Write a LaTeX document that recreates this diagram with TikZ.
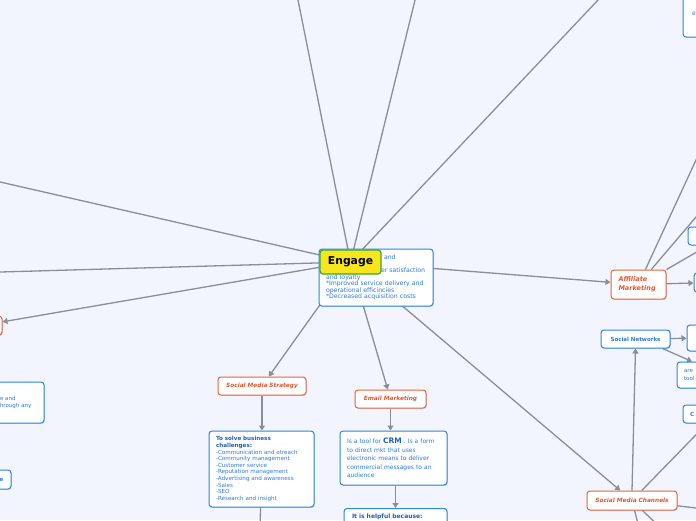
\documentclass[tikz,border=0pt]{standalone}
\usepackage{fontspec}
\setmainfont{DejaVu Sans}
\usetikzlibrary{arrows.meta,shadows}
\definecolor{bgc}{HTML}{F2F5FD}
\definecolor{linec}{HTML}{8A8E99}
\definecolor{orbord}{HTML}{E9643C}
\definecolor{ortext}{HTML}{E4572E}
\definecolor{blbord}{HTML}{2E86DE}
\definecolor{bltext}{HTML}{2B7BE0}
\definecolor{bldark}{HTML}{1F5FBF}
\definecolor{engfill}{HTML}{F7E51E}
\definecolor{enggreen}{HTML}{3BA53B}
\pgfdeclarelayer{bglayer}
\pgfdeclarelayer{linelayer}
\pgfsetlayers{bglayer,linelayer,main}
\tikzset{
  conn/.style={draw=linec, line width=1.3pt},
  arr/.style={conn, -{Triangle[length=5pt,width=6pt]}},
  box/.style={rounded corners=3pt, fill=white, line width=1pt, inner ysep=0pt,
    drop shadow={shadow xshift=0.8pt, shadow yshift=-0.9pt, opacity=0.25, fill=blbord}},
  topic/.style={box, draw=orbord, text=ortext, font=\fontsize{5.8}{7}\selectfont\bfseries\itshape},
  info/.style={box, draw=blbord, text=bltext, align=left},
  engagebox/.style={rounded corners=3pt, fill=engfill, draw=enggreen, line width=1.2pt,
    font=\fontsize{10.8}{12}\selectfont\bfseries, text=black, inner sep=0pt}
}
\begin{document}
\begin{tikzpicture}[x=1pt,y=-1pt]
\begin{pgfonlayer}{bglayer}
\fill[bgc] (0,0) rectangle (696,520);
\end{pgfonlayer}
\useasboundingbox (0,0) rectangle (696,520);
\clip (0,0) rectangle (696,520);

% ---- central ----
\node[info, minimum width=114pt, minimum height=57pt, text width=100pt, inner xsep=7pt,
  font=\fontsize{6.2}{6.5}\selectfont] (engbox) at (376,277.5)
  {\hspace*{58pt}and\\\mbox{}\\\hspace*{55pt}er satisfaction\\and loyalty\\{*}Improved service delivery and\\operational efficincies\\{*}Decreased acquisition costs};
\node[engagebox, minimum width=61pt, minimum height=24pt] (engage) at (350.5,262) {Engage};

% ---- social media strategy ----
\node[topic, minimum width=88pt, minimum height=18pt] (sms) at (262,386) {Social Media Strategy};
\node[info, minimum width=105pt, minimum height=76pt, text width=91pt, inner xsep=7pt,
  font=\fontsize{5.6}{6.6}\selectfont] (smsinfo) at (261.5,469)
  {{\bfseries\color{bldark}To solve business\\challenges:}\\-Communication and otreach\\-Community management\\-Customer service\\-Reputation management\\-Advertising and awareness\\-Sales\\-SEO\\-Research and insight};

% ---- email marketing ----
\node[topic, minimum width=71pt, minimum height=18pt] (em) at (390.5,399) {Email Marketing};
\node[info, minimum width=107pt, minimum height=54pt, text width=93pt, inner xsep=7pt,
  font=\fontsize{6}{8.5}\selectfont] (eminfo) at (393.5,458)
  {Is a tool for {\fontsize{7.5}{8.5}\selectfont\bfseries\color{bldark}CRM} . Is a form\\to direct mkt that uses\\electronic means to deliver\\commercial messages to an\\audience};
\node[info, anchor=north, minimum width=103pt, text width=87pt, inner xsep=8pt, inner ysep=5pt,
  text depth=40pt, font=\fontsize{6}{7}\selectfont\bfseries, text=bldark] (helpful) at (395.5,508)
  {It is helpful because:};

% ---- affiliate / channels ----
\node[topic, minimum width=55pt, minimum height=29pt, align=left, text width=40pt, inner xsep=7.5pt,
  font=\fontsize{6.5}{8.7}\selectfont\bfseries\itshape] (aff) at (638.5,284.5) {Affiliate\\Marketing};
\node[info, minimum width=69pt, minimum height=18pt, font=\fontsize{5.5}{7}\selectfont\bfseries, text=bltext]
  (sn) at (635.5,339) {Social Networks};
\node[topic, minimum width=90pt, minimum height=19pt] (smc) at (632,500.5) {Social Media Channels};

% ---- partial nodes at the edges ----
\node[info, minimum width=47pt, minimum height=47pt, text width=29pt, inner xsep=9pt,
  font=\fontsize{6}{7}\selectfont] (p1) at (706.5,13.5) {e};
\node[info, minimum width=40pt, minimum height=18pt] (p2) at (708,236) {};
\node[info, minimum width=36pt, minimum height=19pt] (p3) at (712,282.5) {};
\node[info, minimum width=40pt, minimum height=26pt] (p4) at (707,338) {};
\node[info, minimum width=43pt, minimum height=26pt, text width=29pt, inner xsep=7pt,
  font=\fontsize{5.5}{7.5}\selectfont] (p5) at (698.5,375) {are\\tool};
\node[info, minimum width=48pt, minimum height=18pt, text width=34pt, inner xsep=7pt,
  font=\fontsize{5.5}{7}\selectfont\bfseries] (p6) at (707,414) {C};
\node[topic, minimum width=42pt, minimum height=19pt] (lo) at (-19,325.5) {};
\node[info, minimum width=50pt, minimum height=41pt, text width=38pt, inner xsep=6pt,
  font=\fontsize{5.5}{7.5}\selectfont] (lb1) at (19,402.5) {e and\\hrough any};
\node[info, minimum width=19pt, minimum height=19pt, font=\fontsize{5.5}{7}\selectfont\bfseries] (lb2) at (1.5,479.5) {e};

% ---- free ends ----
\coordinate (t1) at (296,-10);
\coordinate (t2) at (417.5,-10);
\coordinate (t3) at (607.5,-10);
\coordinate (l1) at (-10,179.7);
\coordinate (l2) at (-10,272.3);
\coordinate (a1) at (706,138.3);
\coordinate (a2) at (706,205.3);
\coordinate (r1) at (720,510.8);
\coordinate (b1) at (639.6,530);
\coordinate (b2) at (662.8,530);
\coordinate (sb) at (260,530);

% ---- connectors ----
\begin{pgfonlayer}{linelayer}
\draw[conn] (engage) -- (t1);
\draw[conn] (engage) -- (t2);
\draw[conn] (engage) -- (t3);
\draw[conn] (engage) -- (l1);
\draw[conn] (engage) -- (l2);
\draw[arr] (engage) -- (lo);
\draw[arr] (engage) -- (sms);
\draw[arr] (engage) -- (em);
\draw[arr] (engage) -- (smc);
\draw[arr] (engage) -- (aff);
\draw[arr] (sms.south) -- (sms.south |- smsinfo.north);
\draw[conn] (smsinfo) -- (sb);
\draw[arr] (em.south) -- (em.south |- eminfo.north);
\draw[arr] (helpful.north |- eminfo.south) -- (helpful.north);
\draw[conn] (aff) -- (a1);
\draw[conn] (aff) -- (a2);
\draw[arr] (aff.north east) -- (p2.south);
\draw[arr] (aff) -- (p3);
\draw[arr] (sn) -- (p4);
\draw[arr] ([xshift=-8pt]sn.south east) -- ([xshift=-6.5pt]p5.north);
\draw[arr] (smc.north) -- (sn.south);
\draw[arr] (smc) -- (p6.south);
\draw[conn] (smc) -- (r1);
\draw[conn] (smc) -- (b1);
\draw[conn] (smc) -- (b2);
\end{pgfonlayer}
\end{tikzpicture}
\end{document}
